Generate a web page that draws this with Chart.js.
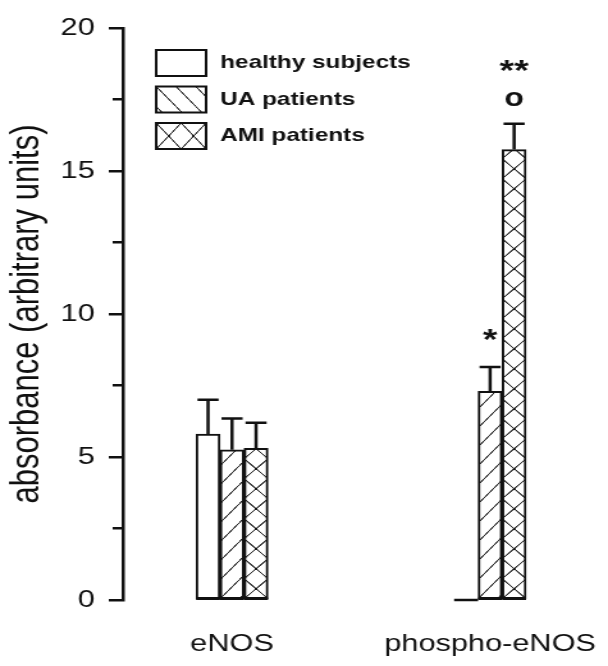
<!DOCTYPE html>
<html>
<head>
<meta charset="utf-8">
<script src="https://cdn.jsdelivr.net/npm/chart.js@4/dist/chart.umd.min.js"></script>
<style>
html, body { margin: 0; padding: 0; background: #ffffff; overflow: hidden; }
</style>
</head>
<body>
<canvas id="c" width="475" height="666" style="display:block;width:608px;height:666px"></canvas>
<script>
// ---------------- data ----------------
const categories = ['eNOS', 'phospho-eNOS'];
const seriesNames = ['healthy subjects', 'UA patients', 'AMI patients'];
const healthyValues = [5.8, 0];
const uaValues = [5.25, 7.3];
const amiValues = [5.3, 15.75];
const healthyErrors = [1.2, 0];
const uaErrors = [1.1, 0.85];
const amiErrors = [0.9, 0.9];
const yMajorTicks = [0, 5, 10, 15, 20];
const yMinorTicks = [2.5, 7.5, 12.5, 17.5];
const yTitle = 'absorbance (arbitrary units)';
const significanceSeries = [1, 2];
const significanceCategory = [1, 1];
const significanceMarks = [['*'], ['o', '**']];

const seriesValues = [healthyValues, uaValues, amiValues];
const seriesErrors = [healthyErrors, uaErrors, amiErrors];

// ---------------- style ----------------
const INK = '#111111';
const HATCH = '#2a2a2a';
const FONT = "'Liberation Sans', Arial, sans-serif";
const canvas = document.getElementById('c');
const ctx = canvas.getContext('2d');

function makeTile(kind, tw, th) {
  const S = 4;
  const c = document.createElement('canvas');
  c.width = Math.round(tw * S);
  c.height = Math.round(th * S);
  const g = c.getContext('2d');
  const w = c.width, h = c.height;
  g.fillStyle = '#ffffff';
  g.fillRect(0, 0, w, h);
  g.strokeStyle = HATCH;
  g.lineWidth = 1.0 * S;
  g.beginPath();
  for (let k = -1; k <= 1; k++) {
    if (kind === 'fwd' || kind === 'cross') { g.moveTo(k * w, h); g.lineTo(k * w + w, 0); }
    if (kind === 'back' || kind === 'cross') { g.moveTo(k * w, 0); g.lineTo(k * w + w, h); }
  }
  g.stroke();
  if (kind === 'cross') {
    g.fillStyle = '#111';
    [[0, 0], [w, 0], [0, h], [w, h], [w / 2, h / 2]].forEach(([px, py]) => {
      g.beginPath(); g.arc(px, py, 1.0 * S, 0, Math.PI * 2); g.fill();
    });
  }
  const p = ctx.createPattern(c, 'repeat');
  p._tileScale = S;
  return p;
}

const barFill = [null, ['fwd', 15, 19], ['cross', 18.75, 20]];
const legendFill = [null, ['back', 15.6, 20], ['cross', 19.5, 26]];

function fillsFor(spec) {
  return categories.map(() => spec ? makeTile(spec[0], spec[1], spec[2]) : '#ffffff');
}
const legendPatterns = legendFill.map(spec => spec ? makeTile(spec[0], spec[1], spec[2]) : '#ffffff');

// ---------------- overlay plugin ----------------
const overlay = {
  id: 'overlay',
  beforeDatasetsDraw(chart) {
    chart.data.datasets.forEach((ds, s) => {
      chart.getDatasetMeta(s).data.forEach(el => {
        const p = el.options.backgroundColor;
        if (p && p._tileScale) {
          p.setTransform(new DOMMatrix().translate(el.x - el.width / 2, el.base).scale(1 / p._tileScale));
        }
      });
    });
  },
  afterDatasetsDraw(chart) {
    const c = chart.ctx;
    const ys = chart.scales.y;
    c.save();
    c.strokeStyle = INK;
    c.lineCap = 'butt';
    chart.data.datasets.forEach((ds, s) => {
      chart.getDatasetMeta(s).data.forEach((el, i) => {
        c.lineWidth = 2.5;
        c.beginPath();
        c.moveTo(el.x - el.width / 2, el.base);
        c.lineTo(el.x + el.width / 2, el.base);
        c.stroke();
        const e = seriesErrors[s][i];
        if (!e) return;
        const top = ys.getPixelForValue(seriesValues[s][i] + e);
        const hw = el.width * 0.44;
        c.lineWidth = 2.5;
        c.beginPath();
        c.moveTo(el.x, el.y);
        c.lineTo(el.x, top);
        c.moveTo(el.x - hw, top);
        c.lineTo(el.x + hw, top);
        c.stroke();
      });
    });
    c.fillStyle = INK;
    c.textAlign = 'center';
    c.textBaseline = 'alphabetic';
    significanceSeries.forEach((s, n) => {
      const i = significanceCategory[n];
      const el = chart.getDatasetMeta(s).data[i];
      const top = ys.getPixelForValue(seriesValues[s][i] + seriesErrors[s][i]);
      significanceMarks[n].forEach((m, k) => {
        c.font = (m === 'o' ? 'bold 25px ' : 'bold 29px ') + FONT;
        c.fillText(m, el.x, top - 18 - 26 * k);
      });
    });
    c.restore();
  },
  afterDraw(chart) {
    const c = chart.ctx;
    const lg = { x: 122, y: 50, step: 36.5, w: 39, h: 26, gap: 11 };
    c.save();
    seriesNames.forEach((name, s) => {
      const top = lg.y + s * lg.step;
      const f = legendPatterns[s];
      if (f && f._tileScale) f.setTransform(new DOMMatrix().translate(lg.x, top).scale(1 / f._tileScale));
      c.fillStyle = f;
      c.fillRect(lg.x, top, lg.w, lg.h);
      c.strokeStyle = INK;
      c.lineWidth = 2;
      c.strokeRect(lg.x, top, lg.w, lg.h);
      c.fillStyle = '#111';
      c.font = 'bold 19px ' + FONT;
      c.textAlign = 'left';
      c.textBaseline = 'middle';
      c.fillText(name, lg.x + lg.w + lg.gap, top + lg.h / 2);
    });
    c.restore();
  }
};

// ---------------- chart ----------------
new Chart(ctx, {
  type: 'bar',
  data: {
    datasets: seriesNames.map((name, s) => ({
      label: name,
      data: seriesValues[s].map((v, i) => ({ x: i, y: v })),
      backgroundColor: fillsFor(barFill[s]),
      borderColor: INK,
      borderWidth: 2,
      borderSkipped: false,
      barThickness: 18.75
    }))
  },
  options: {
    responsive: false,
    animation: false,
    devicePixelRatio: 1,
    layout: { padding: { top: 28, right: 5, bottom: 0, left: 0 } },
    plugins: { legend: { display: false }, tooltip: { enabled: false } },
    scales: {
      x: {
        type: 'linear',
        min: -0.423,
        max: 1.432,
        offset: false,
        afterBuildTicks: s => { s.ticks = categories.map((c, i) => ({ value: i })); },
        afterFit: s => { s.height = 66; s.paddingLeft = 0; s.paddingRight = 0; },
        ticks: {
          callback: v => categories[v] !== undefined ? categories[v] : '',
          font: { family: FONT, size: 24 },
          color: INK,
          padding: 30,
          maxRotation: 0,
          autoSkip: false
        },
        grid: { display: false, drawTicks: false },
        border: { display: false }
      },
      y: {
        min: 0,
        max: 20,
        afterBuildTicks: s => {
          s.ticks = yMajorTicks.concat(yMinorTicks).sort((a, b) => a - b).map(v => ({ value: v }));
        },
        afterFit: s => { s.width = 96; },
        ticks: {
          callback: v => yMajorTicks.includes(v) ? String(v) : '',
          font: { family: FONT, size: 24 },
          color: INK,
          padding: 11,
          autoSkip: false
        },
        grid: {
          drawOnChartArea: false,
          drawTicks: true,
          tickLength: 11,
          color: INK,
          lineWidth: 2.5,
          tickBorderDash: c => (c.tick && yMajorTicks.includes(c.tick.value)) ? [] : [0, 3, 30]
        },
        border: { display: true, color: INK, width: 2.5 },
        title: {
          display: true,
          text: yTitle,
          font: { family: FONT, size: 31 },
          color: INK,
          padding: { top: 3, bottom: 0 }
        }
      }
    }
  },
  plugins: [overlay]
});
</script>
</body>
</html>
